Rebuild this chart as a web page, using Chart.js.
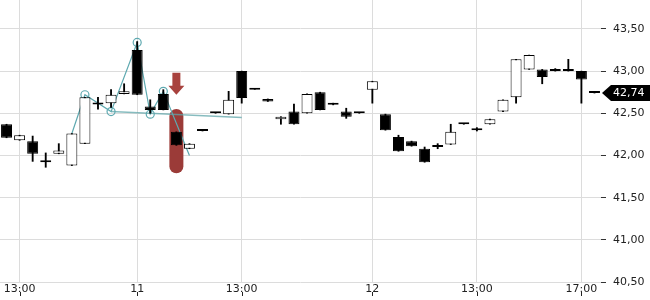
<!DOCTYPE html>
<html>
<head>
<meta charset="utf-8">
<script src="https://cdn.jsdelivr.net/npm/chart.js@4"></script>
<style>
  html, body { margin: 0; padding: 0; background: #fff; }
</style>
</head>
<body>
<canvas id="kurs" width="650" height="300"></canvas>
<script>
// 30-Minuten-Kerzen, 10. bis 12.
var times = [
  '10 12:30', '10 13:00', '10 13:30', '10 14:00', '10 14:30', '10 15:00', '10 15:30', '10 16:00', '10 16:30', '10 17:00',
  '11 09:00', '11 09:30', '11 10:00', '11 10:30', '11 11:00', '11 11:30', '11 12:00', '11 12:30', '11 13:00', '11 13:30',
  '11 14:00', '11 14:30', '11 15:00', '11 15:30', '11 16:00', '11 16:30', '11 17:00', '11 17:30',
  '12 09:00', '12 09:30', '12 10:00', '12 10:30', '12 11:00', '12 11:30', '12 12:00', '12 12:30', '12 13:00', '12 13:30',
  '12 14:00', '12 14:30', '12 15:00', '12 15:30', '12 16:00', '12 16:30', '12 17:00', '12 17:30'
];
var open  = [42.37, 42.18, 42.17, 41.94, 42.02, 41.88, 42.14, 42.625, 42.62, 42.73,
             43.25, 42.58, 42.73, 42.28, 42.08, 42.29, 42.50, 42.49, 43.00, 42.78,
             42.67, 42.43, 42.52, 42.50, 42.75, 42.60, 42.52, 42.50,
             42.78, 42.49, 42.22, 42.17, 42.08, 42.11, 42.13, 42.37, 42.32, 42.37,
             42.52, 42.69, 43.02, 43.02, 43.00, 43.00, 43.00, 42.74];
var high  = [42.37, 42.24, 42.23, 42.03, 42.14, 42.26, 42.69, 42.69, 42.78, 42.85,
             43.35, 42.66, 42.78, 42.28, 42.14, 42.29, 42.50, 42.76, 43.00, 42.78,
             42.67, 42.46, 42.61, 42.73, 42.75, 42.62, 42.56, 42.50,
             42.88, 42.49, 42.24, 42.17, 42.10, 42.14, 42.37, 42.37, 42.33, 42.43,
             42.66, 43.14, 43.19, 43.02, 43.03, 43.14, 43.00, 42.74];
var low   = [42.21, 42.18, 41.93, 41.86, 42.02, 41.88, 42.14, 42.55, 42.57, 42.73,
             42.72, 42.50, 42.54, 42.12, 42.08, 42.29, 42.50, 42.49, 42.62, 42.78,
             42.64, 42.37, 42.37, 42.50, 42.54, 42.60, 42.44, 42.50,
             42.62, 42.30, 42.05, 42.11, 41.92, 42.08, 42.13, 42.37, 42.29, 42.37,
             42.52, 42.62, 43.02, 42.85, 43.00, 43.00, 42.62, 42.74];
var close = [42.21, 42.24, 42.02, 41.92, 42.06, 42.26, 42.69, 42.605, 42.72, 42.76,
             42.72, 42.54, 42.54, 42.12, 42.14, 42.29, 42.50, 42.66, 42.68, 42.78,
             42.64, 42.46, 42.37, 42.73, 42.54, 42.60, 42.46, 42.50,
             42.88, 42.30, 42.05, 42.11, 41.92, 42.10, 42.28, 42.37, 42.30, 42.43,
             42.66, 43.14, 43.19, 42.93, 43.00, 43.02, 42.90, 42.74];

var tickIndex = [1, 10, 18, 28, 36, 44];
var tickText = ['13:00', '11', '13:00', '12', '13:00', '17:00'];

// Zickzack-Linie und Trendlinie
var zigIndex = [5, 6, 8, 10, 11, 12, 14];
var zigValue = [42.26, 42.72, 42.52, 43.34, 42.49, 42.76, 42.00];
var trendIndex = [8, 18];
var trendValue = [42.52, 42.45];

// Markierung (rote Kapsel + Pfeil) und letzter Kurs
var markIndex = 13;
var markRange = [41.79, 42.55];
var arrowRange = [42.98, 42.72];
var lastPrice = 42.74;

function sparse(idx, vals) {
  var arr = times.map(function () { return null; });
  idx.forEach(function (k, i) { arr[k] = vals[i]; });
  return arr;
}
function fmt(v) { return v.toFixed(2).replace('.', ','); }

var bodies = open.map(function (o, i) { return [o, close[i]]; });
var wicks = low.map(function (l, i) { return [l, high[i]]; });
var bodyFill = open.map(function (o, i) { return close[i] > o ? '#ffffff' : '#000000'; });
var zigData = sparse(zigIndex, zigValue);
var zigRadius = zigData.map(function (v, i) {
  return (v !== null && i !== zigIndex[0] && i !== zigIndex[zigIndex.length - 1]) ? 4 : 0;
});

Chart.defaults.font.family = '"DejaVu Sans", sans-serif';
Chart.defaults.font.size = 11;
Chart.defaults.color = '#222';

var annotations = {
  id: 'annotations',
  beforeDatasetsDraw: function (chart) {
    var ctx = chart.ctx, x = chart.scales.x, y = chart.scales.y;
    var cx = x.getPixelForValue(markIndex);
    var top = y.getPixelForValue(markRange[1]);
    var bottom = y.getPixelForValue(markRange[0]);
    ctx.save();
    ctx.fillStyle = '#9b3b38';
    ctx.beginPath();
    ctx.roundRect(cx - 7, top, 14, bottom - top, 7);
    ctx.fill();

    var aTop = y.getPixelForValue(arrowRange[0]);
    var aTip = y.getPixelForValue(arrowRange[1]);
    var neck = aTip - 9;
    ctx.fillStyle = '#a8423e';
    ctx.beginPath();
    ctx.moveTo(cx - 4, aTop);
    ctx.lineTo(cx + 4, aTop);
    ctx.lineTo(cx + 4, neck);
    ctx.lineTo(cx + 8, neck);
    ctx.lineTo(cx, aTip);
    ctx.lineTo(cx - 8, neck);
    ctx.lineTo(cx - 4, neck);
    ctx.closePath();
    ctx.fill();
    ctx.restore();
  },
  afterDraw: function (chart) {
    var ctx = chart.ctx, x = chart.scales.x, y = chart.scales.y;
    ctx.save();
    // kleine Striche unter den Zeitbeschriftungen
    ctx.strokeStyle = '#222';
    ctx.lineWidth = 1;
    tickIndex.forEach(function (k) {
      var px = Math.round(x.getPixelForValue(k)) + 0.5;
      ctx.beginPath();
      ctx.moveTo(px, x.bottom - 8);
      ctx.lineTo(px, x.bottom - 4);
      ctx.stroke();
    });
    // Kursfahne
    var py = y.getPixelForValue(lastPrice);
    var left = chart.chartArea.right + 1;
    ctx.fillStyle = '#000';
    ctx.beginPath();
    ctx.moveTo(left, py);
    ctx.lineTo(left + 9, py - 8);
    ctx.lineTo(chart.width, py - 8);
    ctx.lineTo(chart.width, py + 8);
    ctx.lineTo(left + 9, py + 8);
    ctx.closePath();
    ctx.fill();
    ctx.fillStyle = '#fff';
    ctx.font = '11px "DejaVu Sans", sans-serif';
    ctx.textBaseline = 'middle';
    ctx.fillText(fmt(lastPrice), left + 11, py + 0.5);
    ctx.restore();
  }
};

var kurs = new Chart(document.getElementById('kurs').getContext('2d'), {
  type: 'bar',
  data: {
    labels: times,
    datasets: [
      {
        data: bodies,
        backgroundColor: bodyFill,
        borderColor: '#000',
        borderWidth: 1,
        borderSkipped: false,
        barPercentage: 0.84,
        categoryPercentage: 1,
        minBarLength: 2,
        grouped: false,
        order: 1
      },
      {
        data: wicks,
        backgroundColor: '#000',
        barThickness: 1.2,
        grouped: false,
        order: 2
      },
      {
        type: 'line',
        data: zigData,
        borderColor: '#5ea9b0',
        borderWidth: 1.2,
        pointRadius: zigRadius,
        pointBorderColor: '#5ea9b0',
        pointBorderWidth: 1.2,
        pointBackgroundColor: 'rgba(0,0,0,0)',
        spanGaps: true,
        order: 3
      },
      {
        type: 'line',
        data: sparse(trendIndex, trendValue),
        borderColor: 'rgba(95,165,170,0.75)',
        borderWidth: 1.5,
        pointRadius: 0,
        spanGaps: true,
        order: 4
      }
    ]
  },
  options: {
    responsive: false,
    animation: false,
    layout: { padding: 0 },
    plugins: {
      legend: { display: false },
      tooltip: { enabled: false }
    },
    scales: {
      x: {
        offset: true,
        afterFit: function (scale) {
          scale.height = 18;
          scale.paddingLeft = 0;
          scale.paddingRight = 0;
        },
        border: { display: false },
        grid: {
          offset: false,
          drawTicks: false,
          color: function (c) { return tickIndex.indexOf(c.index) >= 0 ? '#dcdcdc' : 'rgba(0,0,0,0)'; }
        },
        ticks: {
          autoSkip: false,
          maxRotation: 0,
          padding: 1,
          callback: function (v, i) {
            var k = tickIndex.indexOf(i);
            return k >= 0 ? tickText[k] : '';
          }
        }
      },
      y: {
        position: 'right',
        min: 40.5,
        max: 43.843,
        afterFit: function (scale) {
          scale.width = 49;
          scale.paddingTop = 0;
          scale.paddingBottom = 0;
        },
        border: { display: false },
        grid: { color: '#dcdcdc', tickLength: 5, tickColor: '#333' },
        ticks: {
          stepSize: 0.5,
          includeBounds: false,
          padding: 7,
          callback: function (v) { return fmt(v); }
        }
      }
    }
  },
  plugins: [annotations]
});
</script>
</body>
</html>
